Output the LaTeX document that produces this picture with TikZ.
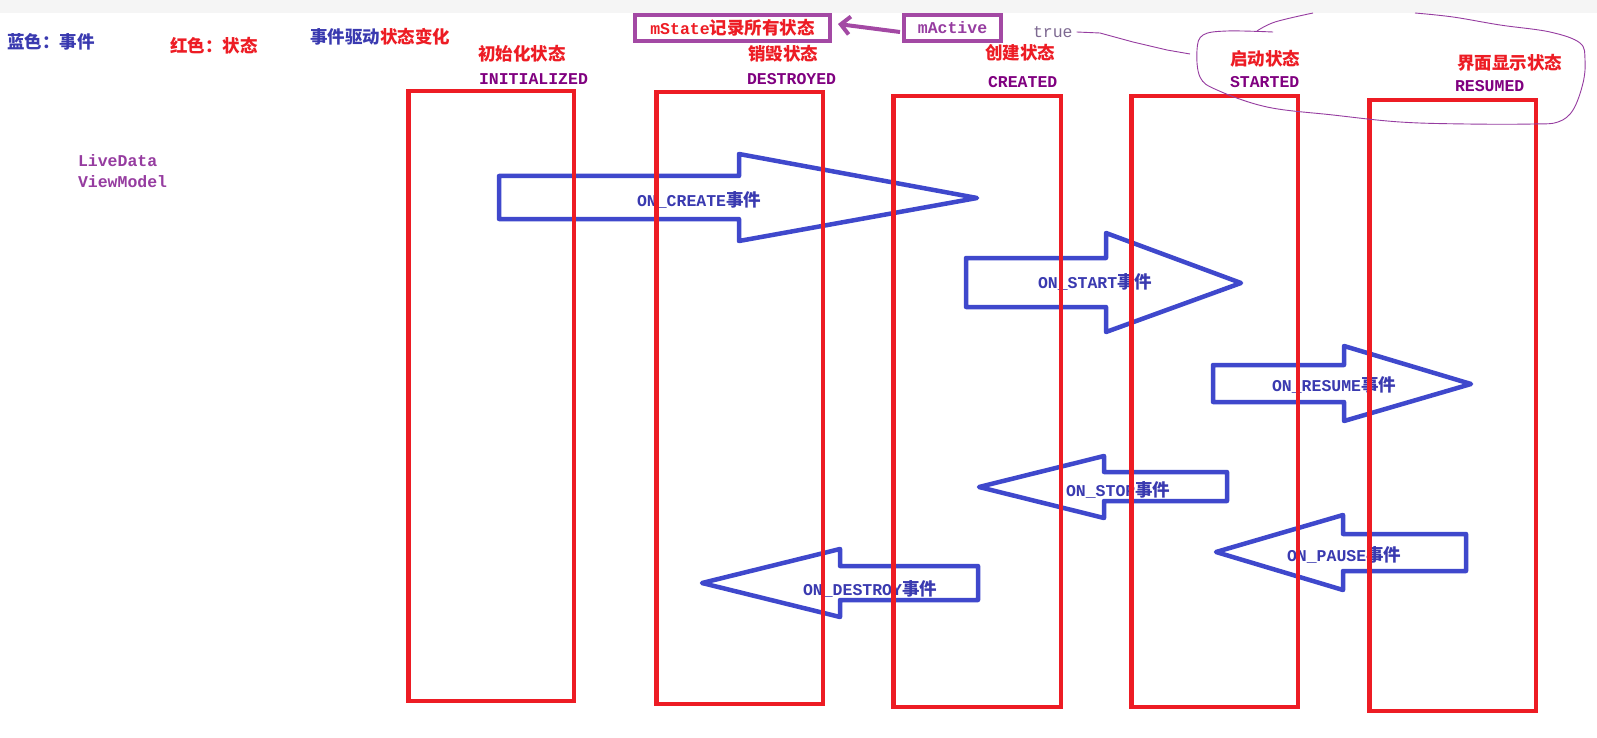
\documentclass[tikz,border=0pt]{standalone}
\usepackage{fontspec}
\newfontfamily\cjkf{Noto Sans CJK SC}
\newfontfamily\monof{Liberation Mono}
\usetikzlibrary{arrows.meta,calc}
\definecolor{evblue}{RGB}{63,72,204}
\definecolor{evtext}{RGB}{58,58,176}
\definecolor{stred}{RGB}{237,28,36}
\definecolor{boxpurple}{RGB}{163,73,164}
\definecolor{lblpurple}{RGB}{128,0,128}
\definecolor{lightpurple}{RGB}{150,60,160}
\definecolor{truegray}{RGB}{125,105,145}
\definecolor{bandgray}{RGB}{245,245,245}
\newcommand{\zh}[1]{{\cjkf\bfseries\fontsize{17.5}{20}\selectfont #1}}
\newcommand{\latn}[1]{{\monof\bfseries\fontsize{16.5}{20}\selectfont #1}}
\tikzset{
  lbl/.style={anchor=west, inner sep=0pt, outer sep=0pt},
  evshape/.style={draw=evblue, line width=4.5pt, line join=round},
  statebox/.style={draw=stred, line width=4.5pt},
  tagbox/.style={draw=boxpurple, line width=4pt, minimum height=26pt, inner sep=0pt},
}
\begin{document}
\begin{tikzpicture}[x=1pt,y=-1pt]
\path[use as bounding box] (0,0) rectangle (1597,738);
\fill[white] (0,0) rectangle (1597,738);
\fill[bandgray] (0,0) rectangle (1597,13);

% legend texts
\node[lbl, text=evtext] (lgblue) at (7,42) {\zh{蓝色：事件}};
\node[lbl, text=stred] (lgred) at (170,46) {\zh{红色：状态}};
\node[lbl] (drive) at (310,37) {\zh{\textcolor{evtext}{事件驱动}\textcolor{stred}{状态变化}}};

% state labels
\node[lbl, text=stred] (s1cn) at (478,54) {\zh{初始化状态}};
\node[lbl, text=lblpurple] (s1en) at (479,79) {\latn{INITIALIZED}};
\node[lbl, text=stred] (s2cn) at (748,54) {\zh{销毁状态}};
\node[lbl, text=lblpurple] (s2en) at (747,79) {\latn{DESTROYED}};
\node[lbl, text=stred] (s3cn) at (985,53) {\zh{创建状态}};
\node[lbl, text=lblpurple] (s3en) at (988,82) {\latn{CREATED}};
\node[lbl, text=stred] (s4cn) at (1230,59) {\zh{启动状态}};
\node[lbl, text=lblpurple] (s4en) at (1230,82) {\latn{STARTED}};
\node[lbl, text=stred] (s5cn) at (1457,63) {\zh{界面显示状态}};
\node[lbl, text=lblpurple] (s5en) at (1455,86) {\latn{RESUMED}};

\node[lbl, text=lightpurple] (livedata) at (78,161) {\latn{LiveData}};
\node[lbl, text=lightpurple] (viewmodel) at (78,182) {\latn{ViewModel}};

% event arrows (right)
\draw[evshape] (499,176) -- (739,176) -- (739,154) -- (977,198) -- (739,241) -- (739,219) -- (499,219) -- cycle;
\node[lbl, text=evtext] (oncreate) at (637,200) {\latn{ON\_CREATE}\zh{事件}};
\draw[evshape] (966,258) -- (1106,258) -- (1106,233) -- (1241,283) -- (1106,332) -- (1106,307) -- (966,307) -- cycle;
\node[lbl, text=evtext] (onstart) at (1038,282) {\latn{ON\_START}\zh{事件}};
\draw[evshape] (1213,365) -- (1344,365) -- (1344,346) -- (1471,384) -- (1344,421) -- (1344,402) -- (1213,402) -- cycle;
\node[lbl, text=evtext] (onresume) at (1272,385) {\latn{ON\_RESUME}\zh{事件}};
% event arrows (left)
\draw[evshape] (1227,472) -- (1104,472) -- (1104,456) -- (979,487) -- (1104,518) -- (1104,501) -- (1227,501) -- cycle;
\node[lbl, text=evtext] (onstop) at (1066,490) {\latn{ON\_STOP}\zh{事件}};
\draw[evshape] (978,566) -- (840,566) -- (840,549) -- (702,583) -- (840,617) -- (840,600) -- (978,600) -- cycle;
\node[lbl, text=evtext] (ondestroy) at (803,589) {\latn{ON\_DESTROY}\zh{事件}};
\draw[evshape] (1466,534) -- (1343,534) -- (1343,515) -- (1216,552) -- (1343,590) -- (1343,571) -- (1466,571) -- cycle;
\node[lbl, text=evtext] (onpause) at (1287,555) {\latn{ON\_PAUSE}\zh{事件}};

% state rectangles
\draw[statebox] (408.25,91.25) rectangle (573.75,700.75);
\draw[statebox] (656.25,92.25) rectangle (822.75,703.75);
\draw[statebox] (893.25,96.25) rectangle (1060.75,706.75);
\draw[statebox] (1131.25,96.25) rectangle (1297.75,706.75);
\draw[statebox] (1369.25,100.25) rectangle (1535.75,710.75);

% top tags
\node[tagbox, minimum width=195pt, text=stred] (mstate) at (732.5,28) {\latn{mState}\zh{记录所有状态}};
\node[tagbox, minimum width=97pt, text=lightpurple] (mactive) at (952.5,28) {\latn{mActive}};
\draw[boxpurple, line width=4pt, -{Straight Barb[length=9pt,width=18pt,line width=4pt]}]
  ($(mactive.west)+(-2,4)$) -- ($(mstate.east)+(6,-4)$);

% true + hand-drawn loop
\node[lbl, text=truegray] (trueval) at (1033,32) {\monof\fontsize{16.5}{20}\selectfont true};
\draw[lightpurple, line width=0.9pt] ($(trueval.east)+(4,0)$) -- (1100,33) -- (1133,42) -- (1167,50) -- (1190,54);
\draw[lightpurple, line width=0.9pt] plot[smooth, tension=0.6] coordinates {
  (1415,13) (1453,17) (1500,25) (1550,32) (1580,43) (1585,60) (1583,83) (1573,110)
  (1558,122) (1533,124) (1467,124) (1400,122) (1333,115) (1267,107) (1217,90)
  (1200,77) (1197,50) (1203,35) (1227,31) (1273,32)};
\draw[lightpurple, line width=0.9pt] plot[smooth, tension=0.6] coordinates {
  (1257,31) (1275,22) (1313,13)};
\end{tikzpicture}
\end{document}
